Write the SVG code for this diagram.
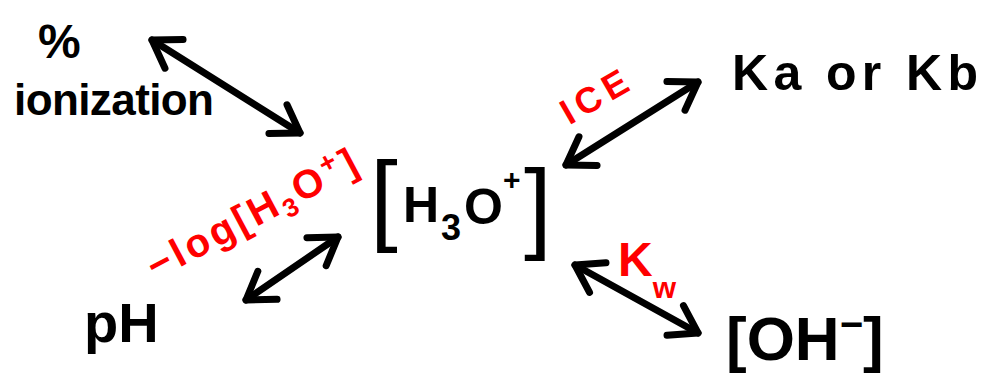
<svg xmlns="http://www.w3.org/2000/svg" width="986" height="374" viewBox="0 0 986 374">
<style>
.t{font-family:"Liberation Sans","DejaVu Sans",sans-serif;font-weight:bold;fill:#000}
.b{font-family:"Liberation Sans","DejaVu Sans",sans-serif;font-weight:normal;fill:#000}
.r{font-family:"Liberation Sans","DejaVu Sans",sans-serif;font-weight:bold;fill:#ff0000}
.c{stroke:#000;stroke-width:7;stroke-linecap:round;fill:none;marker-start:url(#ah);marker-end:url(#ah)}
</style>
<defs>
<marker id="ah" markerUnits="userSpaceOnUse" markerWidth="70" markerHeight="70" viewBox="-40 -35 70 70" refX="0" refY="0" orient="auto-start-reverse">
<path d="M-26,-17 L0,0 L-26,17" stroke="#000" stroke-width="7" stroke-linecap="round" stroke-linejoin="round" fill="none"/>
</marker>
</defs>
<rect width="986" height="374" fill="#fff"/>
<g id="connectors">
<line class="c" x1="152" y1="40" x2="300" y2="133"/>
<line class="c" x1="566" y1="165" x2="698" y2="82"/>
<line class="c" x1="246" y1="300" x2="338" y2="237"/>
<line class="c" x1="575" y1="265" x2="698" y2="333"/>
</g>
<g id="labels">
<text class="r" font-size="36" text-anchor="middle" letter-spacing="6" transform="translate(603,106) rotate(-30)">ICE</text>
<text class="r" font-size="40" text-anchor="middle" transform="translate(258,226) rotate(-28)" textLength="232">−log[H<tspan font-size="26" dy="8">3</tspan><tspan dy="-8">O</tspan><tspan font-size="28" dy="-14">+</tspan><tspan dy="14">]</tspan></text>
<text class="r" font-size="48" x="618" y="276">K<tspan font-size="30" dy="22">w</tspan></text>
</g>
<g id="node-ionization">
<text class="t" font-size="48" x="38" y="58">%</text>
<text class="t" font-size="44" x="14" y="115" textLength="200">ionization</text>
</g>
<g id="node-h3o">
<text class="b" font-size="100" x="370" y="232">[</text>
<text class="t" font-size="50" x="403" y="222">H</text>
<text class="t" font-size="36" x="441" y="240">3</text>
<text class="t" font-size="50" x="464" y="224">O</text>
<text class="t" font-size="30" x="503" y="190">+</text>
<text class="b" font-size="100" x="524" y="240">]</text>
</g>
<g id="node-ka">
<text class="t" font-size="50" x="732" y="90" textLength="246">Ka or Kb</text>
</g>
<g id="node-ph">
<text class="t" font-size="56" x="84" y="342">pH</text>
</g>
<g id="node-oh">
<text class="t" font-size="62" x="726" y="360">[OH<tspan font-size="40" dy="-22">−</tspan><tspan dy="22">]</tspan></text>
</g>
</svg>
